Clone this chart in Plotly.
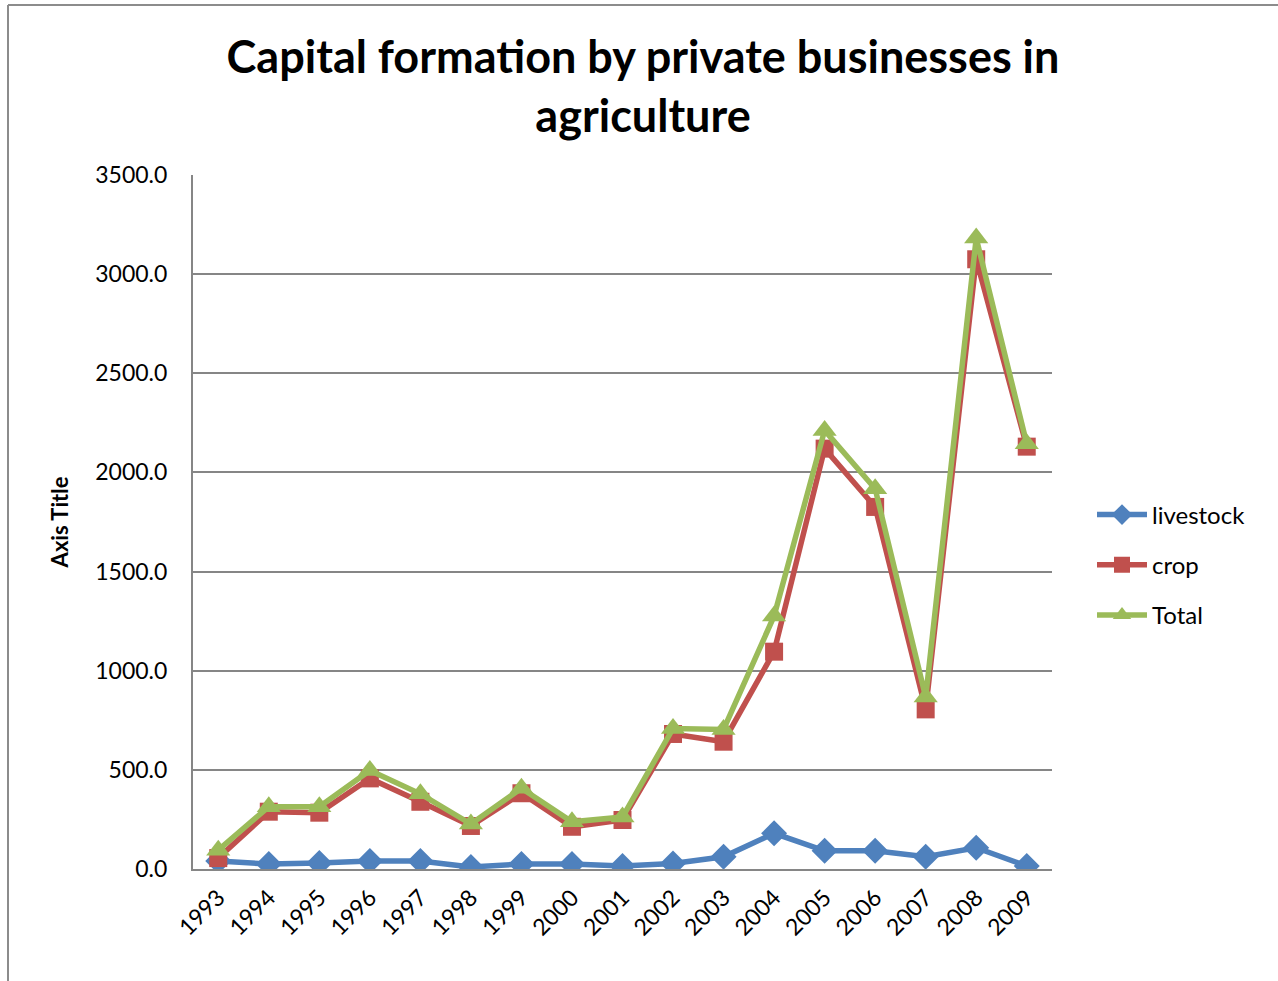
import plotly.graph_objects as go

# Capital formation by private businesses in agriculture, 1993-2009
years = ["1993", "1994", "1995", "1996", "1997", "1998", "1999", "2000", "2001",
         "2002", "2003", "2004", "2005", "2006", "2007", "2008", "2009"]
livestock = [40, 25, 30, 40, 40, 10, 25, 25, 15, 28, 62, 180, 92, 92, 62, 107, 15]
crop = [55, 289, 284, 457, 339, 217, 382, 213, 247, 681, 642, 1096, 2120, 1826, 805, 3075, 2130]
total = [95, 314, 314, 497, 379, 227, 407, 238, 262, 709, 704, 1276, 2212, 1918, 867, 3182, 2145]
y_ticks = [0, 500, 1000, 1500, 2000, 2500, 3000, 3500]

W, H = 1278, 981
L, R, T, B = 193, 226, 175, 112
pw, ph = W - L - R, H - T - B

FONT = "Lato, 'Open Sans', sans-serif"

series = [
    ("livestock", livestock, "#4F81BD", "diamond", 20),
    ("crop", crop, "#C0504D", "square", 18),
    ("Total", total, "#9BBB59", "triangle-up", 21),
]

fig = go.Figure()
for name, vals, color, symbol, size in series:
    fig.add_trace(go.Scatter(
        x=years, y=vals, name=name, legendgroup=name, mode="lines+markers",
        line=dict(color=color, width=5.5),
        marker=dict(symbol=symbol, size=size, color=color),
    ))

# outer frame of the chart area (top and left edges)
fx = (8 - L) / pw
fy = (H - B - 5) / ph
frame = [
    dict(type="line", xref="paper", yref="paper", x0=fx, x1=(W - L) / pw + 0.01,
         y0=fy, y1=fy, line=dict(color="#8C8C8C", width=2)),
    dict(type="line", xref="paper", yref="paper", x0=fx, x1=fx,
         y0=fy, y1=-B / ph - 0.01, line=dict(color="#8C8C8C", width=2)),
]

fig.update_layout(
    width=W, height=H,
    margin=dict(l=L, r=R, t=T, b=B),
    paper_bgcolor="white", plot_bgcolor="white",
    font=dict(family=FONT, color="black"),
    title=dict(
        text="<b>Capital formation by private businesses in<br>agriculture</b>",
        x=643 / W, xanchor="center",
        y=1 - 73 / H, yanchor="middle",
        font=dict(size=45, family=FONT, color="black"),
    ),
    showlegend=True,
    legend=dict(
        x=(1092 - L) / pw, xanchor="left", y=(H - B - 565) / ph, yanchor="middle",
        font=dict(size=24, family=FONT), tracegroupgap=16,
        itemwidth=50, bgcolor="rgba(0,0,0,0)",
    ),
    shapes=frame,
    xaxis=dict(
        type="category", range=[-0.5, len(years) - 0.5],
        showgrid=False, showline=True, linecolor="#868686", linewidth=2,
        ticks="", tickangle=-45, tickfont=dict(size=23, family=FONT),
        ticklabelstandoff=4,
    ),
    yaxis=dict(
        range=[0, 3500], tickvals=y_ticks,
        ticktext=[f"{v:.1f}" for v in y_ticks],
        showgrid=True, gridcolor="#868686", gridwidth=1.5,
        showline=True, linecolor="#868686", linewidth=2,
        ticks="", ticklabelstandoff=19,
        tickfont=dict(size=23, family=FONT), zeroline=False,
        title=dict(text="<b>Axis Title</b>", font=dict(size=22, family=FONT), standoff=21),
    ),
)

fig.write_html("out.html")
